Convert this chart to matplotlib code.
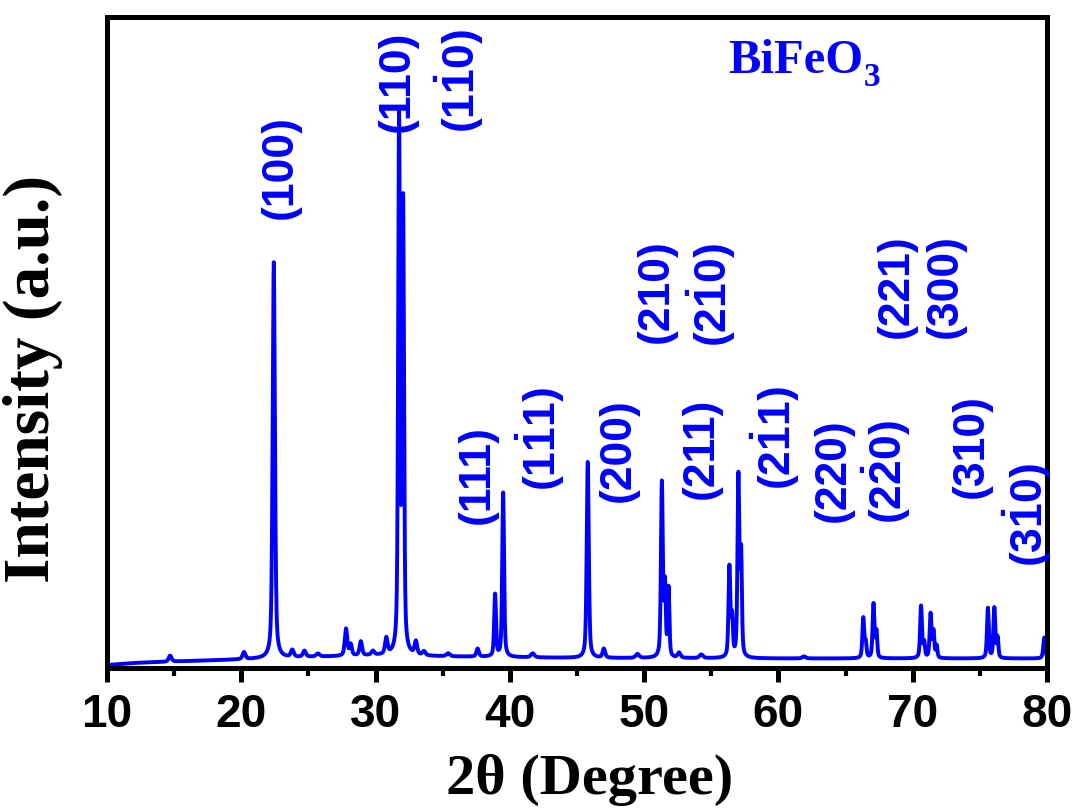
import numpy as np
import matplotlib
matplotlib.use("Agg")
import matplotlib.pyplot as plt
from matplotlib.ticker import MultipleLocator

plt.rcParams["mathtext.fontset"] = "custom"
plt.rcParams["mathtext.rm"] = "Liberation Sans:bold"
plt.rcParams["mathtext.bf"] = "Liberation Sans:bold"

# ---- diffraction data (2-theta in degrees, intensity in arbitrary units) ----
peak_pos = [14.7, 20.2, 22.42, 23.8, 24.7, 25.7, 27.8, 28.15, 28.9, 29.8, 30.8,
            31.75, 32.05, 33.0, 33.6, 35.4, 37.6, 38.9, 39.5, 41.7,
            45.8, 47.0, 49.5, 51.32, 51.55, 51.82, 52.6, 54.25,
            56.35, 56.55, 57.02, 57.22, 61.9,
            66.32, 66.5, 67.08, 67.3, 70.62, 70.85, 71.33, 71.55, 71.78,
            75.6, 76.08, 76.32, 79.8]
peak_amp = [60, 70, 3960, 70, 60, 30, 270, 110, 140, 40, 160,
            5300, 4450, 130, 40, 30, 80, 620, 1640, 40,
            1960, 90, 40, 1740, 700, 680, 50, 35,
            900, 380, 1800, 1000, 20,
            400, 150, 540, 260, 520, 150, 440, 260, 120,
            500, 500, 200, 210]
peak_fwhm = [0.25, 0.25, 0.2, 0.25, 0.25, 0.3, 0.22, 0.2, 0.22, 0.25, 0.22,
             0.16, 0.16, 0.22, 0.25, 0.3, 0.22, 0.16, 0.16, 0.3,
             0.18, 0.22, 0.3, 0.16, 0.14, 0.14, 0.25, 0.3,
             0.16, 0.14, 0.16, 0.14, 0.3,
             0.16, 0.14, 0.16, 0.14, 0.16, 0.14, 0.16, 0.14, 0.14,
             0.16, 0.16, 0.14, 0.18]
background_pos = [10, 12, 15, 20, 25, 30, 35, 45, 60, 80]
background_val = [30, 50, 65, 85, 110, 125, 115, 100, 95, 95]

tick_values = [10, 20, 30, 40, 50, 60, 70, 80]

hkl_labels = ["(100)", "(110)", r"$\mathbf{(1\dot{1}0)}$", "(111)",
              r"$\mathbf{(1\dot{1}1)}$", "(200)", "(210)",
              r"$\mathbf{(2\dot{1}0)}$", "(211)", r"$\mathbf{(2\dot{1}1)}$",
              "(220)", r"$\mathbf{(2\dot{2}0)}$", "(221)", "(300)", "(310)",
              r"$\mathbf{(3\dot{1}0)}$"]
label_x = [22.91, 31.64, 36.2, 37.54, 42.24, 48.06, 50.9, 55.0, 54.25,
           59.78, 64.1, 67.99, 68.8, 72.46, 74.33, 78.5]
label_y = [5010, 5870, 5870, 1930, 2290, 2180, 3770, 3730, 2200,
           2300, 1980, 1960, 3820, 3820, 2220, 1530]

# ---- build the pattern from the peak table (pseudo-Voigt profiles) ----
two_theta = np.arange(10.0, 80.0001, 0.01)
intensity = np.interp(two_theta, background_pos, background_val).astype(float)
eta = 0.5
for p, a, w in zip(peak_pos, peak_amp, peak_fwhm):
    d = (two_theta - p) / (w / 2)
    lor = 1.0 / (1.0 + d ** 2)
    gau = np.exp(-np.log(2) * d ** 2)
    intensity += a * (eta * lor + (1 - eta) * gau)

BLUE = "#0000ff"

fig = plt.figure(figsize=(10.75, 8.08), dpi=100)
ax = fig.add_axes([107 / 1075, 1 - 668 / 808, 940 / 1075, 651 / 808])

ax.plot(two_theta, intensity, color=BLUE, lw=2.8)

ax.set_xlim(10, 80)
ax.set_ylim(0, 6510)
ax.set_xticks(tick_values)
ax.xaxis.set_minor_locator(MultipleLocator(5))
ax.set_yticks([])

for s in ax.spines.values():
    s.set_linewidth(3.6)

ax.tick_params(axis="x", which="major", direction="out", length=10, width=3.6,
               pad=8)
ax.tick_params(axis="x", which="minor", direction="out", length=6, width=3.0)
for lab in ax.get_xticklabels():
    lab.set_fontfamily("Liberation Sans")
    lab.set_fontweight("bold")
    lab.set_fontsize(33)

ax.set_xlabel("2θ (Degree)", fontfamily="Liberation Serif", fontweight="bold",
              fontsize=42)
ax.xaxis.set_label_coords(0.513, -0.132)
ax.set_ylabel("Intensity (a.u.)", fontfamily="Liberation Serif",
              fontweight="bold", fontsize=47)
ax.yaxis.set_label_coords(-0.047, 0.444)

for txt, x, y in zip(hkl_labels, label_x, label_y):
    ax.text(x, y, txt, rotation=90, ha="center", va="center", color=BLUE,
            fontfamily="Liberation Sans", fontweight="bold", fontsize=32,
            clip_on=False)

title = ax.text(56.27, 5950, "BiFeO", color=BLUE, fontfamily="Liberation Serif",
                fontweight="bold", fontsize=35, ha="left", va="baseline")
ax.annotate("3", xy=(1.0, 0.0), xycoords=title, xytext=(0, -7),
            textcoords="offset points", ha="left", va="bottom", color=BLUE,
            fontfamily="Liberation Serif", fontweight="bold", fontsize=24)

fig.savefig("out.png", dpi=100)
